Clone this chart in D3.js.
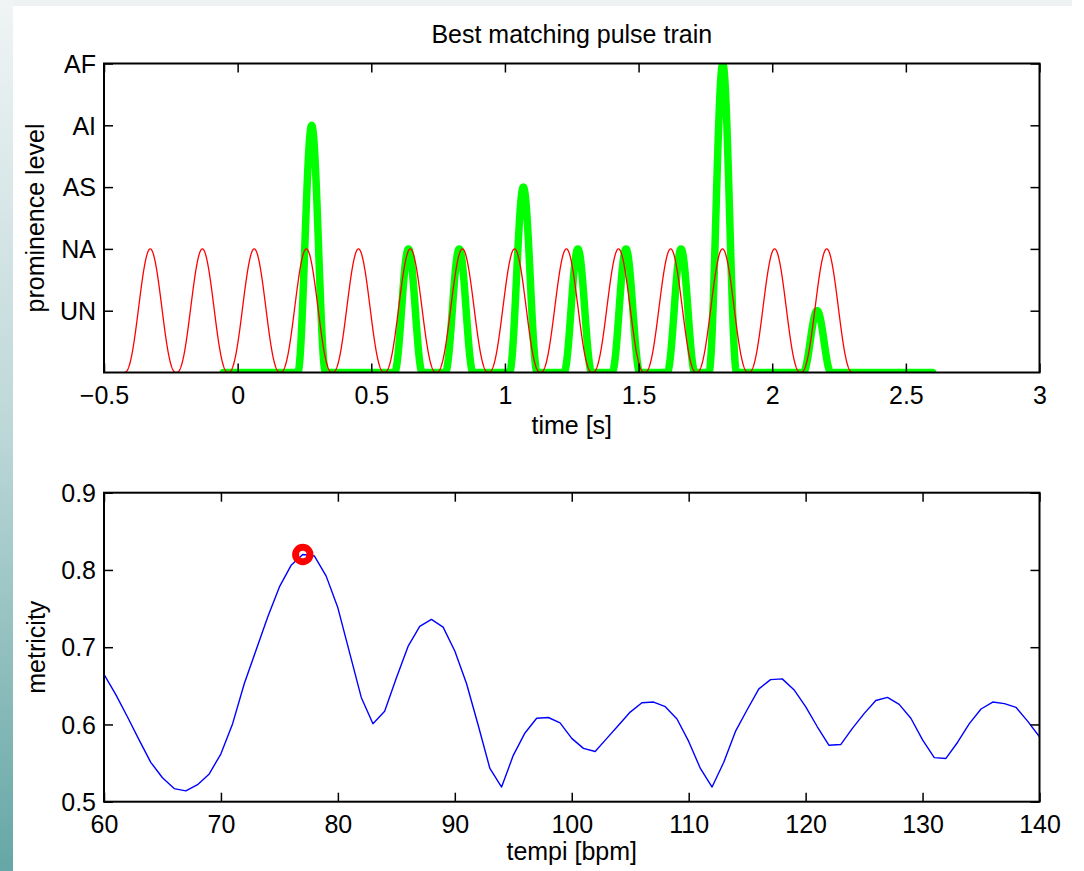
<!DOCTYPE html>
<html>
<head>
<meta charset="utf-8">
<script src="https://cdn.jsdelivr.net/npm/d3@7"></script>
<style>
  html, body { margin: 0; padding: 0; background: #ffffff; }
  svg { display: block; }
  text { font-family: "Liberation Sans", Arial, Helvetica, sans-serif; fill: #000; }
</style>
</head>
<body>
<svg id="fig" width="1084" height="871"></svg>
<script>
// ---- pulse-train panel data ----
const levelTicks = [1, 2, 3, 4, 5];
const levelLabels = ["UN", "NA", "AS", "AI", "AF"];
const timeTicks = [-0.5, 0, 0.5, 1, 1.5, 2, 2.5, 3];

// reference pulse train (one pulse per quarter beat at the best tempo)
const refPulseTimes = [-0.327, -0.132, 0.062, 0.257, 0.452, 0.646, 0.841,
                       1.036, 1.230, 1.425, 1.620, 1.814, 2.009, 2.204];
const refPulseLevel = 2;
const refPulsePeriod = 0.195;

// detected prominences
const matchPulseTimes  = [0.277, 0.639, 0.829, 1.069, 1.273, 1.453, 1.659, 1.815, 2.168];
const matchPulseLevels = [4,     2,     2,     3,     2,     2,     2,     5,     1];
const matchPulseHalfWidth = 0.052;
const matchSpan = [-0.053, 2.6];

// ---- metricity panel data ----
const tempi = d3.range(60, 141);
const metricity = [
  0.665, 0.639, 0.610, 0.580, 0.551, 0.531, 0.517, 0.514, 0.522, 0.536,
  0.562, 0.601, 0.653, 0.696, 0.739, 0.778, 0.806, 0.820, 0.818, 0.792,
  0.751, 0.693, 0.635, 0.601, 0.617, 0.660, 0.701, 0.727, 0.736, 0.726,
  0.695, 0.653, 0.599, 0.543, 0.519, 0.560, 0.589, 0.608, 0.609, 0.602,
  0.582, 0.569, 0.565, 0.582, 0.599, 0.616, 0.628, 0.629, 0.623, 0.607,
  0.578, 0.543, 0.519, 0.551, 0.591, 0.619, 0.646, 0.658, 0.659, 0.645,
  0.623, 0.597, 0.573, 0.574, 0.595, 0.614, 0.631, 0.635, 0.626, 0.608,
  0.580, 0.557, 0.556, 0.577, 0.601, 0.620, 0.629, 0.627, 0.622, 0.604,
  0.584
];
const metricityTicks = [0.5, 0.6, 0.7, 0.8, 0.9];
const tempoTicks = [60, 70, 80, 90, 100, 110, 120, 130, 140];

// ---- layout ----
const W = 1084, H = 871;
const axL = 104, axR = 1039.5;
const top1 = 63.5, bot1 = 372.5;
const top2 = 492.7, bot2 = 801.7;
const tickLen = 9;
const fontSize = 25;

const svg = d3.select("#fig");

// page backdrop
const defs = svg.append("defs");
const grad = defs.append("linearGradient").attr("id", "strip")
  .attr("x1", 0).attr("y1", 0).attr("x2", 0).attr("y2", 1);
grad.append("stop").attr("offset", "0%").attr("stop-color", "#f0f4f5");
grad.append("stop").attr("offset", "50%").attr("stop-color", "#bcd7d7");
grad.append("stop").attr("offset", "100%").attr("stop-color", "#65a7a6");

svg.append("rect").attr("x", 0).attr("y", 0).attr("width", W).attr("height", H).attr("fill", "#ffffff");
svg.append("rect").attr("x", 0).attr("y", 0).attr("width", 1072).attr("height", 6).attr("fill", "#eef2f3");
svg.append("rect").attr("x", 0).attr("y", 0).attr("width", 13).attr("height", H).attr("fill", "url(#strip)");

// clip paths for the two plot areas
defs.append("clipPath").attr("id", "clip1").append("rect")
  .attr("x", axL).attr("y", top1).attr("width", axR - axL).attr("height", bot1 - top1);
defs.append("clipPath").attr("id", "clip2").append("rect")
  .attr("x", axL).attr("y", top2).attr("width", axR - axL).attr("height", bot2 - top2);

// ---- scales ----
const xTime = d3.scaleLinear().domain([-0.5, 3]).range([axL, axR]);
const yLevel = d3.scaleLinear().domain([0, 5]).range([bot1, top1]);
const xTempo = d3.scaleLinear().domain([60, 140]).range([axL, axR]);
const yMetr = d3.scaleLinear().domain([0.5, 0.9]).range([bot2, top2]);

// pulse kernels
function refPulse(t) {
  let v = 0;
  for (const c of refPulseTimes) {
    const u = (t - c) / refPulsePeriod;
    if (Math.abs(u) <= 0.5) v += refPulseLevel * Math.pow(Math.cos(Math.PI * u), 2.4);
  }
  return v;
}
function matchPulse(t) {
  let v = 0;
  matchPulseTimes.forEach((c, i) => {
    const u = (t - c) / matchPulseHalfWidth;
    if (Math.abs(u) <= 1) v += matchPulseLevels[i] * (0.5 + 0.5 * Math.cos(Math.PI * u));
  });
  return v;
}

const step = 0.001;
const refStart = refPulseTimes[0] - refPulsePeriod / 2;
const refEnd = refPulseTimes[refPulseTimes.length - 1] + refPulsePeriod / 2;
const refSamples = d3.range(refStart, refEnd + step / 2, step).map(t => [t, refPulse(t)]);
const matchSamples = d3.range(matchSpan[0], matchSpan[1] + step / 2, step).map(t => [t, matchPulse(t)]);

const lineTime = d3.line().x(d => xTime(d[0])).y(d => yLevel(d[1]));

const g1 = svg.append("g");
const plot1 = g1.append("g").attr("clip-path", "url(#clip1)");
plot1.append("path").datum(matchSamples)
  .attr("d", lineTime)
  .attr("fill", "none").attr("stroke", "#00ff00").attr("stroke-width", 7.5)
  .attr("stroke-linejoin", "round").attr("stroke-linecap", "round");
plot1.append("path").datum(refSamples)
  .attr("d", lineTime)
  .attr("fill", "none").attr("stroke", "#ff0000").attr("stroke-width", 1.3);

// axes box with inward ticks on all sides
function drawBox(g, top, bot) {
  g.append("rect").attr("x", axL).attr("y", top).attr("width", axR - axL).attr("height", bot - top)
    .attr("fill", "none").attr("stroke", "#000").attr("stroke-width", 2);
}
drawBox(g1, top1, bot1);

const ax1b = g1.append("g").attr("transform", `translate(0,${bot1})`)
  .call(d3.axisBottom(xTime).tickValues(timeTicks).tickSizeInner(-tickLen).tickSizeOuter(0)
    .tickFormat(d => d < 0 ? "\u2212" + Math.abs(d) : String(d)));
const ax1t = g1.append("g").attr("transform", `translate(0,${top1})`)
  .call(d3.axisTop(xTime).tickValues(timeTicks).tickSizeInner(-tickLen).tickSizeOuter(0).tickFormat(""));
const ax1l = g1.append("g").attr("transform", `translate(${axL},0)`)
  .call(d3.axisLeft(yLevel).tickValues(levelTicks).tickSizeInner(-tickLen).tickSizeOuter(0)
    .tickFormat((d, i) => levelLabels[i]));
const ax1r = g1.append("g").attr("transform", `translate(${axR},0)`)
  .call(d3.axisRight(yLevel).tickValues(levelTicks).tickSizeInner(-tickLen).tickSizeOuter(0).tickFormat(""));

// ---- metricity panel ----
const g2 = svg.append("g");
const plot2 = g2.append("g").attr("clip-path", "url(#clip2)");
const lineTempo = d3.line().x((d, i) => xTempo(tempi[i])).y(d => yMetr(d));
plot2.append("path").datum(metricity)
  .attr("d", lineTempo)
  .attr("fill", "none").attr("stroke", "#0000ff").attr("stroke-width", 1.4)
  .attr("stroke-linejoin", "round");

const bestIdx = d3.maxIndex(metricity);
g2.append("circle")
  .attr("cx", xTempo(tempi[bestIdx])).attr("cy", yMetr(metricity[bestIdx]))
  .attr("r", 7.2).attr("fill", "none").attr("stroke", "#ff0000").attr("stroke-width", 7);

drawBox(g2, top2, bot2);
const ax2b = g2.append("g").attr("transform", `translate(0,${bot2})`)
  .call(d3.axisBottom(xTempo).tickValues(tempoTicks).tickSizeInner(-tickLen).tickSizeOuter(0)
    .tickFormat(d3.format("d")));
const ax2t = g2.append("g").attr("transform", `translate(0,${top2})`)
  .call(d3.axisTop(xTempo).tickValues(tempoTicks).tickSizeInner(-tickLen).tickSizeOuter(0).tickFormat(""));
const ax2l = g2.append("g").attr("transform", `translate(${axL},0)`)
  .call(d3.axisLeft(yMetr).tickValues(metricityTicks).tickSizeInner(-tickLen).tickSizeOuter(0)
    .tickFormat(d3.format(".1f")));
const ax2r = g2.append("g").attr("transform", `translate(${axR},0)`)
  .call(d3.axisRight(yMetr).tickValues(metricityTicks).tickSizeInner(-tickLen).tickSizeOuter(0).tickFormat(""));

// common axis styling
svg.selectAll(".domain").remove();
svg.selectAll(".tick line").attr("stroke", "#000").attr("stroke-width", 1.5);
svg.selectAll(".tick text").attr("font-size", fontSize).attr("fill", "#000")
  .attr("font-family", "Liberation Sans, Arial, sans-serif");

[ax1b, ax2b].forEach(a => a.selectAll(".tick text").attr("y", 0).attr("dy", null)
  .attr("dominant-baseline", "alphabetic"));
ax1b.selectAll(".tick text").attr("transform", `translate(0,${404 - bot1})`);
ax2b.selectAll(".tick text").attr("transform", `translate(0,${833 - bot2})`);
[ax1l, ax2l].forEach(a => a.selectAll(".tick text").attr("x", -8).attr("dy", "0.35em"));

// ---- titles and axis labels ----
const midX = (axL + axR) / 2;
svg.append("text").attr("x", midX).attr("y", 43.3).attr("text-anchor", "middle")
  .attr("font-size", fontSize).text("Best matching pulse train");
svg.append("text").attr("x", midX).attr("y", 434).attr("text-anchor", "middle")
  .attr("font-size", fontSize).text("time [s]");
svg.append("text").attr("x", midX).attr("y", 860).attr("text-anchor", "middle")
  .attr("font-size", fontSize).text("tempi [bpm]");
svg.append("text").attr("transform", `translate(44,${(top1 + bot1) / 2}) rotate(-90)`)
  .attr("text-anchor", "middle").attr("font-size", fontSize).text("prominence level");
svg.append("text").attr("transform", `translate(45,${(top2 + bot2) / 2}) rotate(-90)`)
  .attr("text-anchor", "middle").attr("font-size", fontSize).text("metricity");
</script>
</body>
</html>
